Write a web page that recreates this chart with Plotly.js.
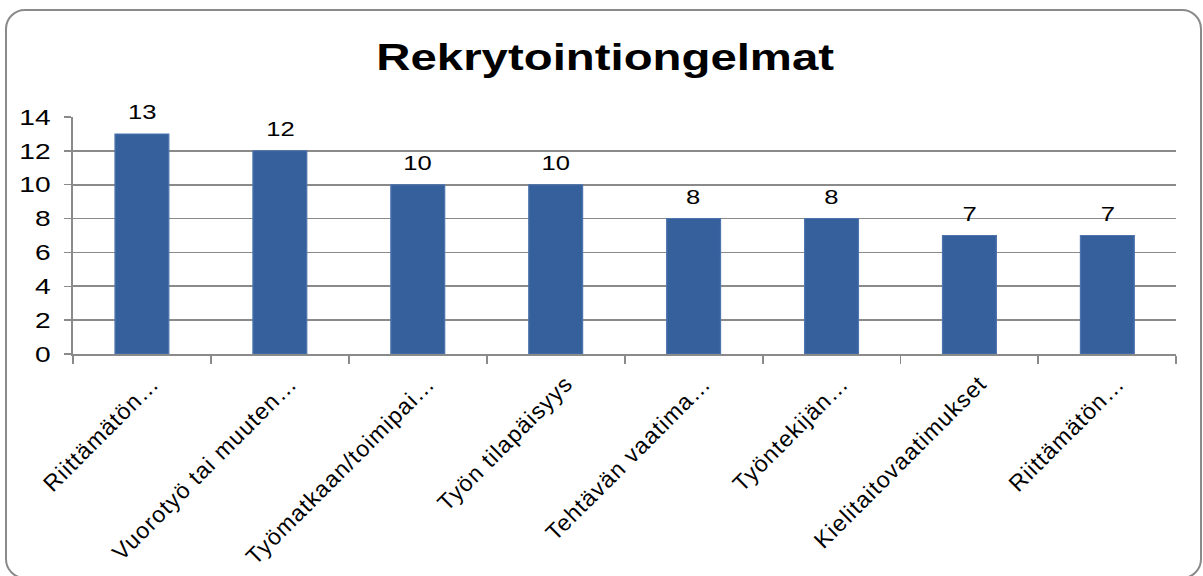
<!DOCTYPE html>
<html>
<head>
<meta charset="utf-8">
<script src="https://cdn.plot.ly/plotly-3.0.1.min.js"></script>
<style>
  html, body { margin: 0; padding: 0; background: #ffffff; overflow: hidden; }
  #frame {
    position: absolute; left: 5px; top: 9px; width: 1193px; height: 566px;
    border: 2px solid #8a8a8a; border-radius: 20px; box-sizing: content-box;
  }
  #chart {
    position: absolute; left: 0; top: 0; width: 940px; height: 576px;
    transform: scaleX(1.28); transform-origin: 0 0;
  }
</style>
</head>
<body>
<div id="frame"></div>
<div id="chart"></div>
<script>
// ---- data ----
const chartTitle = "Rekrytointiongelmat";
const categories = [
  "Riittämätön…",
  "Vuorotyö tai muuten…",
  "Työmatkaan/toimipai…",
  "Työn tilapäisyys",
  "Tehtävän vaatima…",
  "Työntekijän…",
  "Kielitaitovaatimukset",
  "Riittämätön…"
];
const values = [13, 12, 10, 10, 8, 8, 7, 7];
const yTickValues = [0, 2, 4, 6, 8, 10, 12, 14];

// ---- drawing ----
const STRETCH = 1.28;
const LABEL_DX = 7, LABEL_DY = 6;   // screen-pixel nudge of the slanted labels
const keys = categories.map((c, i) => String(i));

const trace = {
  type: "bar",
  x: keys,
  y: values,
  marker: { color: "#35609c", line: { color: "#4d74ad", width: 1 } },
  hoverinfo: "skip"
};

const annotations = keys.map((k, i) => ({
  x: k, y: values[i], xref: "x", yref: "y",
  text: String(values[i]),
  showarrow: false, yanchor: "bottom", yshift: 9,
  font: { family: "Liberation Sans, Arial, sans-serif", size: 20, color: "#000000" }
}));

const layout = {
  width: 940, height: 576,
  margin: { l: 57, r: 20.5, t: 117, b: 222 },
  paper_bgcolor: "rgba(0,0,0,0)",
  plot_bgcolor: "rgba(0,0,0,0)",
  showlegend: false,
  bargap: 0.61,
  font: { family: "Liberation Sans, Arial, sans-serif", color: "#000000" },
  title: {
    text: "<b>" + chartTitle + "</b>",
    font: { family: "Liberation Sans, Arial, sans-serif", size: 37, color: "#000000" },
    x: 0.503, xanchor: "center",
    y: 1 - 57 / 576, yanchor: "middle"
  },
  xaxis: {
    type: "category",
    tickmode: "array", tickvals: keys, ticktext: categories,
    tickson: "boundaries",
    ticks: "outside", ticklen: 8, tickwidth: 1.5, tickcolor: "#8a8a8a",
    showline: true, linecolor: "#8a8a8a", linewidth: 2,
    showgrid: false, zeroline: false,
    tickangle: -52,
    tickfont: { size: 23, color: "#000000" },
    range: [-0.5, 7.5]
  },
  yaxis: {
    range: [0, 14],
    tickmode: "array", tickvals: yTickValues,
    ticks: "outside", ticklen: 5.5, tickwidth: 1.5, tickcolor: "#8a8a8a",
    showline: true, linecolor: "#8a8a8a", linewidth: 1.6,
    showgrid: true, gridcolor: "#8a8a8a", gridwidth: 1.6,
    zeroline: false,
    ticklabelstandoff: 6,
    tickfont: { size: 22, color: "#000000" }
  },
  annotations: annotations
};

Plotly.newPlot("chart", [trace], layout, { staticPlot: true, displayModeBar: false }).then(gd => {
  // the whole chart is stretched horizontally; keep the slanted category labels unsheared at 45°
  gd.querySelectorAll(".xtick text").forEach(t => {
    const x = parseFloat(t.getAttribute("x")) || 0;
    const y = parseFloat(t.getAttribute("y")) || 0;
    const cons = t.transform.baseVal.consolidate();
    let px = x, py = y;
    if (cons) {
      const m = cons.matrix;
      px = m.a * x + m.c * y + m.e;
      py = m.b * x + m.d * y + m.f;
    }
    px += LABEL_DX / STRETCH;
    py += LABEL_DY;
    t.setAttribute("transform",
      "translate(" + px + "," + py + ") scale(" + (1 / STRETCH) + ",1) rotate(-45) translate(" + (-x) + "," + (-y) + ")");
    t.style.letterSpacing = "1.1px";
  });
});
</script>
</body>
</html>
